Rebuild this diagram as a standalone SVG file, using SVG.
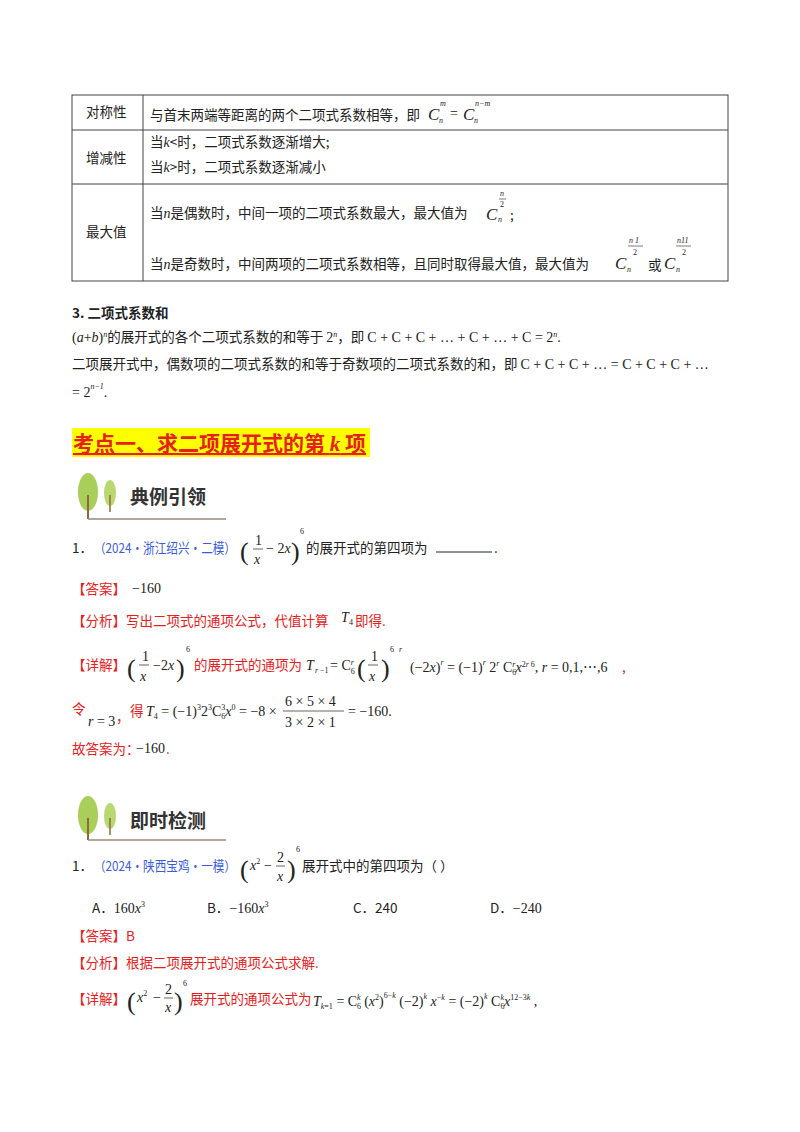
<svg xmlns="http://www.w3.org/2000/svg" width="800" height="1132" viewBox="0 0 800 1132">
<style>
text{font-family:"Liberation Serif","Noto Sans CJK SC",serif;font-size:14px;fill:#222}
.c{font-family:"Noto Sans CJK SC",sans-serif;font-size:13.5px}
.m{font-family:"Liberation Serif",serif;font-size:14px}
.i{font-style:italic}
.r{fill:#e8201c}
.b{fill:#3a5be0}
.s{font-size:8px}
.p{font-size:26px}
.C{font-size:17px}
.g{font-family:"Noto Sans CJK SC",sans-serif;font-weight:bold;font-size:19px;fill:#333}
line.t{stroke:#444;stroke-width:1}
</style>
<rect width="800" height="1132" fill="#fff"/>
<g id="table">
<rect x="72" y="95" width="656" height="186" fill="none" stroke="#444"/>
<line class="t" x1="143" y1="95" x2="143" y2="281"/>
<line class="t" x1="72" y1="130" x2="728" y2="130"/>
<line class="t" x1="72" y1="184" x2="728" y2="184"/>
<text class="c" x="86" y="117">对称性</text>
<text class="c" x="150" y="120">与首末两端等距离的两个二项式系数相等，即</text>
<text class="m i C" x="428" y="120">C</text><text class="m i s" x="440" y="106">m</text><text class="m i s" x="439" y="123">n</text>
<text class="m" x="450" y="118">=</text>
<text class="m i C" x="463" y="120">C</text><text class="m i s" x="475" y="106">n−m</text><text class="m i s" x="474" y="123">n</text>
<text class="c" x="86" y="163">增减性</text>
<text class="c" x="150" y="147">当<tspan class="m i">k</tspan>&lt;时，二项式系数逐渐增大;</text>
<text class="c" x="150" y="172">当<tspan class="m i">k</tspan>&gt;时，二项式系数逐渐减小</text>
<text class="c" x="86" y="237">最大值</text>
<text class="c" x="150" y="218">当<tspan class="m i">n</tspan>是偶数时，中间一项的二项式系数最大，最大值为</text>
<text class="m i C" x="486" y="220">C</text><text class="m i s" x="498" y="222">n</text>
<text class="m i s" x="500" y="196">n</text><line x1="499" y1="199" x2="506" y2="199" stroke="#222" stroke-width="0.6"/><text class="m s" x="500" y="207">2</text>
<text class="c" x="510" y="220">;</text>
<text class="c" x="150" y="269">当<tspan class="m i">n</tspan>是奇数时，中间两项的二项式系数相等，且同时取得最大值，最大值为</text>
<text class="m i C" x="615" y="269">C</text><text class="m i s" x="627" y="272">n</text>
<text class="m i s" x="629" y="243">n 1</text><line x1="628" y1="246" x2="643" y2="246" stroke="#222" stroke-width="0.6"/><text class="m s" x="633" y="255">2</text>
<text class="c" x="648" y="270">或</text>
<text class="m i C" x="664" y="269">C</text><text class="m i s" x="676" y="272">n</text>
<text class="m i s" x="677" y="243">n11</text><line x1="676" y1="246" x2="691" y2="246" stroke="#222" stroke-width="0.6"/><text class="m s" x="682" y="255">2</text>
</g>
<g id="sum">
<text class="c" x="72" y="318" style="font-weight:bold">3.  二项式系数和</text>
<text class="c" x="72" y="342"><tspan class="m">(<tspan class="i">a</tspan>+<tspan class="i">b</tspan>)<tspan class="i" font-size="8" dy="-5">n</tspan></tspan><tspan dy="5">的展开式的各个二项式系数的和等于 </tspan><tspan class="m">2<tspan class="i" font-size="8" dy="-5">n</tspan></tspan><tspan dy="5">，即 </tspan><tspan class="m">C + C + C + … + C + … + C = 2<tspan class="i" font-size="8" dy="-5">n</tspan><tspan dy="5">.</tspan></tspan></text>
<text class="c" x="72" y="369">二项展开式中，偶数项的二项式系数的和等于奇数项的二项式系数的和，即 <tspan class="m">C + C + C + … = C + C + C + …</tspan></text>
<text class="m" x="72" y="397">= 2<tspan class="i" font-size="8" dy="-8">n−1</tspan><tspan dy="8">.</tspan></text>
</g>
<g id="heading">
<rect x="72" y="428" width="298" height="29" fill="#ffff00"/>
<text x="73" y="451" style="font-family:'Noto Sans CJK SC',sans-serif;font-size:21px;font-weight:bold;fill:#e8201c;text-decoration:underline">考点一、求二项展开式的第 <tspan style="font-family:'Liberation Serif';font-style:italic">k</tspan> 项</text>
</g>
<g id="icon1">
<ellipse cx="88" cy="492" rx="10" ry="19" fill="#a9cf5a"/><line x1="88" y1="495" x2="88" y2="519" stroke="#8b6b3a" stroke-width="2"/>
<ellipse cx="110" cy="493" rx="6" ry="13" fill="#b8d870"/><line x1="110" y1="495" x2="110" y2="512" stroke="#8b6b3a" stroke-width="1.5"/>
<line x1="88" y1="519" x2="226" y2="519" stroke="#9a8a7a" stroke-width="1.5"/>
<text class="g" x="130" y="504">典例引领</text>
</g>
<g id="ex1">
<text class="c" x="72" y="553">1．</text>
<text class="c b" x="94" y="553" textLength="142" lengthAdjust="spacingAndGlyphs">（2024·浙江绍兴·二模）</text>
<text class="m p" x="240" y="560">(</text>
<text class="m" x="255" y="545">1</text><line x1="253" y1="549" x2="263" y2="549" stroke="#222" stroke-width="0.7"/><text class="m i" x="254" y="564">x</text>
<text class="m" x="266" y="553">− 2<tspan class="i">x</tspan></text>
<text class="m p" x="291" y="560">)</text><text class="m s" x="300" y="534">6</text>
<text class="c" x="306" y="553">的展开式的第四项为</text>
<line x1="436" y1="552" x2="492" y2="552" stroke="#222"/>
<text class="c" x="494" y="553">.</text>
<text class="c r" x="72" y="594">【答案】</text><text class="m" x="132" y="593">−160</text>
<text class="c r" x="72" y="626">【分析】写出二项式的通项公式，代值计算</text><text class="m i" x="341" y="622">T</text><text class="m s" x="349" y="625">4</text><text class="c r" x="355" y="626">即得.</text>
<text class="c r" x="72" y="670">【详解】</text>
<text class="m p" x="127" y="677">(</text>
<text class="m" x="142" y="661">1</text><line x1="139" y1="665" x2="149" y2="665" stroke="#222" stroke-width="0.7"/><text class="m i" x="140" y="681">x</text>
<text class="m" x="153" y="670">−2<tspan class="i">x</tspan></text>
<text class="m p" x="176" y="677">)</text><text class="m s" x="186" y="652">6</text>
<text class="c r" x="194" y="670">的展开式的通项为</text>
<text class="m i" x="306" y="670">T</text><text class="m i s" x="315" y="673">r</text><text class="m s" x="320" y="673">−1</text>
<text class="m" x="330" y="670">= C<tspan font-size="8" dy="4">6</tspan><tspan class="i" font-size="8" dx="-4" dy="-9">r</tspan></text>
<text class="m p" x="357" y="677">(</text>
<text class="m" x="371" y="661">1</text><line x1="368" y1="665" x2="378" y2="665" stroke="#222" stroke-width="0.7"/><text class="m i" x="369" y="681">x</text>
<text class="m p" x="381" y="677">)</text><text class="m s" x="390" y="652">6</text><text class="m i s" x="399" y="652">r</text>
<text class="m" x="410" y="672">(−2<tspan class="i">x</tspan>)<tspan class="i" font-size="8" dy="-7">r</tspan><tspan dy="7"> = (−1)</tspan><tspan class="i" font-size="8" dy="-7">r</tspan><tspan dy="7"> 2</tspan><tspan class="i" font-size="8" dy="-6">r</tspan><tspan dy="6"> C</tspan><tspan font-size="8" dy="3">6</tspan><tspan class="i" font-size="8" dx="-4" dy="-8">r</tspan><tspan class="i" dy="5">x</tspan><tspan font-size="8" dy="-5">2<tspan class="i">r</tspan>  6</tspan><tspan dy="5">, <tspan class="i">r</tspan> = 0,1,⋯,6</tspan></text>
<text class="c r" x="622" y="672">,</text>
<text class="c r" x="72" y="714">令</text>
<text class="m" x="88" y="726"><tspan class="i">r</tspan> = 3</text><text class="c r" x="116" y="722">，</text>
<text class="c r" x="130" y="716">得</text>
<text class="m" x="146" y="716"><tspan class="i">T</tspan><tspan font-size="8" dy="3">4</tspan><tspan dy="-3"> = (−1)</tspan><tspan font-size="8" dy="-6">3</tspan><tspan dy="6">2</tspan><tspan font-size="8" dy="-6">3</tspan><tspan dy="6">C</tspan><tspan font-size="8" dy="3">6</tspan><tspan font-size="8" dx="-4" dy="-9">3</tspan><tspan class="i" dy="6">x</tspan><tspan font-size="8" dy="-6">0</tspan><tspan dy="6"> = −8 × </tspan></text>
<text class="m" x="285" y="706">6 × 5 × 4</text><line x1="283" y1="711" x2="344" y2="711" stroke="#222" stroke-width="0.7"/><text class="m" x="285" y="727">3 × 2 × 1</text>
<text class="m" x="348" y="716">= −160.</text>
<text class="c r" x="72" y="754">故答案为：</text><text class="m" x="136" y="753">−160</text><text class="c r" x="166" y="754">.</text>
</g>
<g id="icon2">
<ellipse cx="88" cy="815" rx="10" ry="19" fill="#a9cf5a"/><line x1="88" y1="818" x2="88" y2="840" stroke="#8b6b3a" stroke-width="2"/>
<ellipse cx="110" cy="816" rx="6" ry="13" fill="#b8d870"/><line x1="110" y1="818" x2="110" y2="835" stroke="#8b6b3a" stroke-width="1.5"/>
<line x1="88" y1="840" x2="226" y2="840" stroke="#9a8a7a" stroke-width="1.5"/>
<text class="g" x="130" y="828">即时检测</text>
</g>
<g id="ex2">
<text class="c" x="72" y="871">1．</text>
<text class="c b" x="94" y="871" textLength="142" lengthAdjust="spacingAndGlyphs">（2024·陕西宝鸡·一模）</text>
<text class="m p" x="240" y="878">(</text>
<text class="m i" x="250" y="870">x<tspan font-size="8" font-style="normal" dy="-6">2</tspan></text>
<text class="m" x="264" y="870">−</text>
<text class="m" x="277" y="862">2</text><line x1="276" y1="866" x2="285" y2="866" stroke="#222" stroke-width="0.7"/><text class="m i" x="277" y="881">x</text>
<text class="m p" x="287" y="878">)</text><text class="m s" x="296" y="852">6</text>
<text class="c" x="302" y="871">展开式中的第四项为（     ）</text>
<text class="c" x="92" y="913">A．<tspan class="m">160<tspan class="i">x</tspan><tspan font-size="8" dy="-6">3</tspan></tspan></text>
<text class="c" x="207" y="913">B．<tspan class="m">−160<tspan class="i">x</tspan><tspan font-size="8" dy="-6">3</tspan></tspan></text>
<text class="c" x="353" y="913">C．240</text>
<text class="c" x="490" y="913">D．<tspan class="m">−240</tspan></text>
<text class="c r" x="72" y="941">【答案】B</text>
<text class="c r" x="72" y="968">【分析】根据二项展开式的通项公式求解.</text>
<text class="c r" x="72" y="1004">【详解】</text>
<text class="m p" x="127" y="1010">(</text>
<text class="m i" x="137" y="1002">x<tspan font-size="8" font-style="normal" dy="-6">2</tspan></text>
<text class="m" x="153" y="1002">−</text>
<text class="m" x="165" y="994">2</text><line x1="164" y1="998" x2="173" y2="998" stroke="#222" stroke-width="0.7"/><text class="m i" x="165" y="1012">x</text>
<text class="m p" x="174" y="1010">)</text><text class="m s" x="183" y="986">6</text>
<text class="c r" x="190" y="1004">展开式的通项公式为</text>
<text class="m" x="313" y="1006"><tspan class="i">T</tspan><tspan class="i" font-size="8" dy="3">k</tspan><tspan font-size="8">=1</tspan><tspan dy="-3"> = C</tspan><tspan font-size="8" dy="3">6</tspan><tspan class="i" font-size="8" dx="-4" dy="-9">k</tspan><tspan dy="6"> (</tspan><tspan class="i">x</tspan><tspan font-size="8" dy="-6">2</tspan><tspan dy="6">)</tspan><tspan font-size="8" dy="-8">6−<tspan class="i">k</tspan></tspan><tspan dy="8"> (−2)</tspan><tspan class="i" font-size="8" dy="-7">k</tspan><tspan class="i" dy="7"> x</tspan><tspan font-size="8" dy="-6">−<tspan class="i">k</tspan></tspan><tspan dy="6"> = (−2)</tspan><tspan class="i" font-size="8" dy="-7">k</tspan><tspan dy="7"> C</tspan><tspan font-size="8" dy="3">6</tspan><tspan class="i" font-size="8" dx="-4" dy="-9">k</tspan><tspan class="i" dy="6">x</tspan><tspan font-size="8" dy="-6">12−3<tspan class="i">k</tspan></tspan><tspan dy="6"> ,</tspan></text>
</g>
</svg>
